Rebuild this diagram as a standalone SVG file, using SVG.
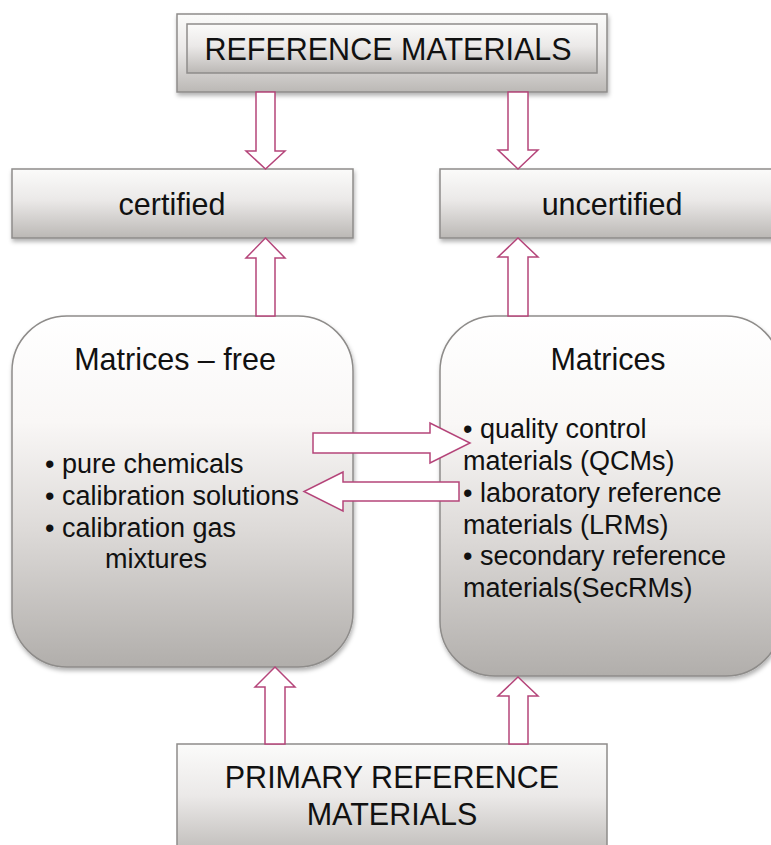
<svg xmlns="http://www.w3.org/2000/svg" width="771" height="845" viewBox="0 0 771 845">
<defs>
<linearGradient id="gRect" x1="0" y1="0" x2="0" y2="1">
<stop offset="0" stop-color="#fbfbfa"/>
<stop offset="0.45" stop-color="#ebe9e8"/>
<stop offset="1" stop-color="#bbb8b5"/>
</linearGradient>
<linearGradient id="gRound" x1="0" y1="0" x2="0" y2="1">
<stop offset="0" stop-color="#ffffff"/>
<stop offset="0.3" stop-color="#f9f7f6"/>
<stop offset="0.6" stop-color="#dedbd9"/>
<stop offset="1" stop-color="#b1aeab"/>
</linearGradient>
<filter id="sh" x="-10%" y="-10%" width="120%" height="130%">
<feDropShadow dx="1" dy="3" stdDeviation="2" flood-color="#000" flood-opacity="0.3"/>
</filter>
</defs>
<style>
.box{fill:url(#gRect);stroke:#8e8c8a;stroke-width:1.5}
.rbox{fill:url(#gRound);stroke:#8e8c8a;stroke-width:1.5}
.t{font-family:"Liberation Sans",Arial,sans-serif;fill:#111}
.h{font-size:30.5px;text-anchor:middle}
.b{font-size:27px}
.arr{fill:#ffffff;stroke:#b5457a;stroke-width:1.5;stroke-linejoin:miter}
</style>
<rect width="771" height="845" fill="#ffffff"/>
<g id="reference-materials">
<rect class="box" x="177" y="14" width="430" height="78" filter="url(#sh)"/>
<rect class="box" x="187" y="24" width="410" height="49"/>
<text class="t h" x="388" y="60">REFERENCE MATERIALS</text>
</g>
<g id="certified">
<rect class="box" x="12" y="169" width="341" height="69" filter="url(#sh)"/>
<text class="t h" x="172" y="215">certified</text>
</g>
<g id="uncertified">
<rect class="box" x="440" y="169" width="341" height="69" filter="url(#sh)"/>
<text class="t h" x="612" y="215">uncertified</text>
</g>
<g id="matrices-free">
<rect class="rbox" x="12" y="316" width="341" height="351" rx="55" ry="55" filter="url(#sh)"/>
<text class="t h" x="175" y="370">Matrices – free</text>
<text class="t b" x="45" y="473">• pure chemicals</text>
<text class="t b" x="45" y="505">• calibration solutions</text>
<text class="t b" x="45" y="537">• calibration gas</text>
<text class="t b" x="105" y="568">mixtures</text>
</g>
<g id="matrices">
<rect class="rbox" x="440" y="316" width="341" height="360" rx="55" ry="55" filter="url(#sh)"/>
<text class="t h" x="608" y="370">Matrices</text>
<text class="t b" x="463" y="438">• quality control</text>
<text class="t b" x="463" y="470">materials (QCMs)</text>
<text class="t b" x="463" y="502">• laboratory reference</text>
<text class="t b" x="463" y="534">materials (LRMs)</text>
<text class="t b" x="463" y="565">• secondary reference</text>
<text class="t b" x="463" y="597">materials(SecRMs)</text>
</g>
<g id="primary-reference-materials">
<rect class="box" x="177" y="744" width="430" height="115"/>
<text class="t h" x="392" y="788">PRIMARY REFERENCE</text>
<text class="t h" x="392" y="825">MATERIALS</text>
</g>
<g id="connectors">
<polygon class="arr" points="256,92 275,92 275,151 285,151 265.5,169 246,151 256,151"/>
<polygon class="arr" points="508,92 528,92 528,150 538,150 518,169 498,150 508,150"/>
<polygon class="arr" points="256,316 275,316 275,258 285,258 265.5,238 246,258 256,258"/>
<polygon class="arr" points="508,316 528,316 528,257 538,257 518,238 498,257 508,257"/>
<polygon class="arr" points="313,433 430,433 430,423 470,443 430,463 430,453 313,453"/>
<polygon class="arr" points="459,482 343,482 343,472 304,491.5 343,511 343,501 459,501"/>
<polygon class="arr" points="265,744 285,744 285,687 295,687 275,667 255,687 265,687"/>
<polygon class="arr" points="509,744 528,744 528,696 538,696 518,677 498,696 509,696"/>
</g>
</svg>
